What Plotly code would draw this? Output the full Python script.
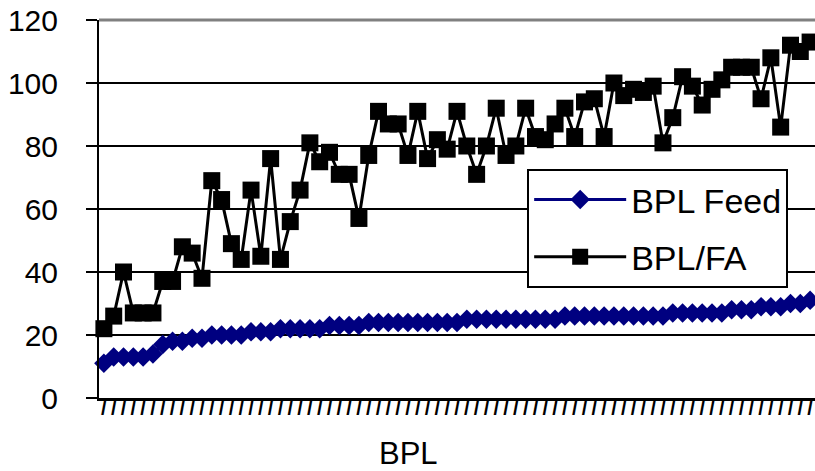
import plotly.graph_objects as go

samples = list(range(1, 74))
tick_labels = ["<b>/</b>"] * len(samples)

bpl_feed = [11, 13, 13, 13, 13, 14, 17, 18, 18, 19,
            19, 20, 20, 20, 20, 21, 21, 21, 22, 22,
            22, 22, 22, 23, 23, 23, 23, 24, 24, 24,
            24, 24, 24, 24, 24, 24, 24, 25, 25, 25,
            25, 25, 25, 25, 25, 25, 25, 26, 26, 26,
            26, 26, 26, 26, 26, 26, 26, 26, 27, 27,
            27, 27, 27, 27, 28, 28, 28, 29, 29, 29,
            30, 30, 31]

bpl_fa = [22, 26, 40, 27, 27, 27, 37, 37, 48, 46,
          38, 69, 63, 49, 44, 66, 45, 76, 44, 56,
          66, 81, 75, 78, 71, 71, 57, 77, 91, 87,
          87, 77, 91, 76, 82, 79, 91, 80, 71, 80,
          92, 77, 80, 92, 83, 82, 87, 92, 83, 94,
          95, 83, 100, 96, 98, 97, 99, 81, 89, 102,
          99, 93, 98, 101, 105, 105, 105, 95, 108, 86,
          112, 110, 113]

FONT = "Liberation Sans, Arial, sans-serif"

fig = go.Figure()
fig.add_trace(go.Scatter(
    x=samples, y=bpl_feed, name="BPL Feed", mode="lines+markers",
    line=dict(color="#000080", width=3),
    marker=dict(symbol="diamond", size=15, color="#000080"),
    cliponaxis=False, legendgroup="a"))
fig.add_trace(go.Scatter(
    x=samples, y=bpl_fa, name="BPL/FA", mode="lines+markers",
    line=dict(color="black", width=3),
    marker=dict(symbol="square", size=17, color="black"),
    cliponaxis=False, legendgroup="b"))

fig.update_layout(
    width=815, height=471,
    margin=dict(l=99, r=0, t=20, b=73),
    paper_bgcolor="white", plot_bgcolor="white",
    font=dict(family=FONT, color="black"),
    showlegend=True,
    legend=dict(
        x=0.598, y=0.606, xanchor="left", yanchor="top",
        bgcolor="white", bordercolor="black", borderwidth=2,
        font=dict(size=34, family=FONT, color="black"),
        tracegroupgap=10, itemwidth=92,
    ),
    xaxis=dict(
        range=[0.5, 73.5],
        tickmode="array", tickvals=samples, ticktext=tick_labels,
        tickfont=dict(size=20, family=FONT, color="black"),
        ticks="", ticklabelstandoff=-10, showgrid=False, zeroline=False,
        showline=True, linecolor="black", linewidth=3,
    ),
    yaxis=dict(
        range=[0, 120], tickmode="linear", tick0=0, dtick=20,
        tickfont=dict(size=30, family=FONT, color="black"),
        ticks="outside", ticklen=11, tickwidth=2, tickcolor="black",
        ticklabelstandoff=22,
        showgrid=True, gridcolor="black", gridwidth=2,
        zeroline=False,
        showline=True, linecolor="black", linewidth=2,
    ),
    shapes=[dict(type="line", xref="paper", yref="paper", x0=0, x1=1, y0=1, y1=1,
                 line=dict(color="#808080", width=3))],
    annotations=[dict(text="BPL", xref="paper", yref="paper",
                      x=(408 - 99) / 716, y=-(453 - 398) / 378,
                      xanchor="center", yanchor="middle", showarrow=False,
                      font=dict(size=31, family=FONT, color="black"))],
)

fig.write_html("out.html")
